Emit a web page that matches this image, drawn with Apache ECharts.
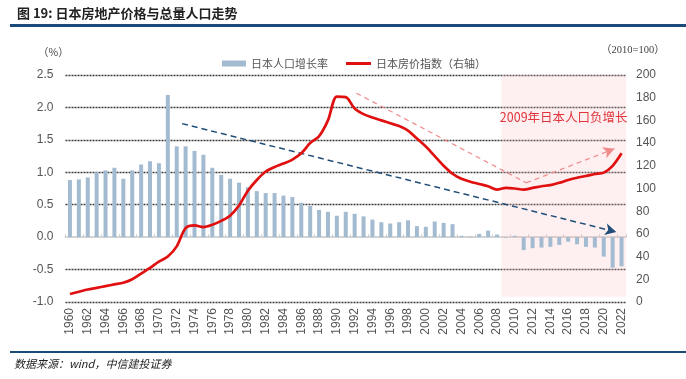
<!DOCTYPE html>
<html><head><meta charset="utf-8">
<script src="https://cdn.jsdelivr.net/npm/echarts@6/dist/echarts.min.js"></script>
<style>html,body{margin:0;padding:0;background:#fff}#c{width:686px;height:379px}</style>
</head><body><div id="c"></div>
<script>
const years = ['1960','1961','1962','1963','1964','1965','1966','1967','1968','1969',
'1970','1971','1972','1973','1974','1975','1976','1977','1978','1979',
'1980','1981','1982','1983','1984','1985','1986','1987','1988','1989',
'1990','1991','1992','1993','1994','1995','1996','1997','1998','1999',
'2000','2001','2002','2003','2004','2005','2006','2007','2008','2009',
'2010','2011','2012','2013','2014','2015','2016','2017','2018','2019',
'2020','2021','2022'];
// 日本人口增长率 (%)
const popGrowth = [0.88,0.89,0.92,1.00,1.03,1.07,0.90,1.03,1.12,1.17,
1.14,2.19,1.40,1.40,1.33,1.27,1.07,0.96,0.90,0.84,
0.77,0.71,0.68,0.68,0.64,0.62,0.53,0.48,0.42,0.39,
0.33,0.39,0.36,0.32,0.27,0.23,0.21,0.23,0.26,0.17,
0.16,0.24,0.22,0.20,0.02,0.01,0.05,0.10,0.04,-0.01,
0.02,-0.20,-0.17,-0.16,-0.15,-0.12,-0.07,-0.11,-0.15,-0.16,
-0.30,-0.47,-0.45];
// 日本房价指数 (2010=100)
const priceIndex = [7,9,11,12.5,14,15.5,17,20,25,30,
35.5,40,49,65,67.5,66,68,71.5,76,85,
98,107.5,115,119,122,125.5,131,140,146,160,
181,180.5,170.5,165.5,162.5,160,157.5,155,151,144,
137,128.5,120,113,108.5,106,104,102,99,100.5,
100,99,100.5,102,103,105,107.5,109.5,111,112.8,
114,120,131];
const leftTicks = {min:-1, max:2.5, interval:0.5};
const rightTicks = {min:0, max:200, interval:20};
// annotations in data space (x = year)
const shadeYears = [2008.5, 2022.5];
const shadeLeftVals = [2.55, -0.92];
const navyArrow = [[1972.6, 1.75], [2021.4, 0.08]];
const pinkArrow = [[1992.2, 184], [2011.3, 105], [2021.2, 135]];
const noteText = '2009年日本人口负增长';

const chart = echarts.init(document.getElementById('c'), null, {renderer:'canvas'});
const gridColors = ['#3c3c3c','#3c3c3c','rgba(0,0,0,0)','#3c3c3c','#3c3c3c','#3c3c3c','#3c3c3c','#3c3c3c'];
const lab = {color:'#555', fontSize:12, fontFamily:'Liberation Sans, Arial, sans-serif'};
const legText = {color:'#555', fontSize:11, fontFamily:'Noto Sans CJK SC'};
chart.setOption({
  animation:false,
  backgroundColor:'#fff',
  grid:{left:65.5, right:60, top:75, bottom:77, containLabel:false},
  legend:[
    {data:['日本人口增长率'], left:217, top:53, itemWidth:24, itemHeight:6, icon:'rect', textStyle:legText},
    {data:['日本房价指数（右轴）'], left:341, top:53, itemWidth:25, itemHeight:3, icon:'rect', textStyle:legText}
  ],
  xAxis:[
    {type:'category', data:years, position:'bottom', boundaryGap:true,
     axisLine:{show:false}, axisTick:{show:false},
     axisLabel:Object.assign({rotate:90, interval:1, margin:6}, lab)},
    {type:'category', data:years, position:'bottom', boundaryGap:true,
     axisLine:{onZero:true, onZeroAxisIndex:0, lineStyle:{color:'#d4d4d4', width:2}},
     axisTick:{show:true, inside:true, interval:1, length:3, lineStyle:{color:'#cfcfcf'}},
     axisLabel:{show:false}, splitLine:{show:false}},
    {type:'value', min:1959.5, max:2022.5, show:false}
  ],
  yAxis:[
    {type:'value', position:'left', min:leftTicks.min, max:leftTicks.max, interval:leftTicks.interval,
     axisLine:{show:false}, axisTick:{show:false},
     axisLabel:Object.assign({margin:12, formatter:v=>v.toFixed(1)}, lab),
     splitLine:{show:true, lineStyle:{color:gridColors, width:1.3, type:[2,1]}}},
    {type:'value', position:'right', min:rightTicks.min, max:rightTicks.max, interval:rightTicks.interval,
     axisLine:{show:false}, axisTick:{show:false}, splitLine:{show:false},
     axisLabel:Object.assign({margin:10}, lab)}
  ],
  series:[
    {type:'line', xAxisIndex:2, yAxisIndex:0, data:[], silent:true, z:1,
     markArea:{silent:true, itemStyle:{color:'rgba(250,190,195,0.24)'},
       label:{show:true, position:'insideTop', distance:36, color:'#e0353c', fontSize:12.5,
              fontFamily:'Noto Sans CJK SC'},
       data:[[{name:noteText, xAxis:shadeYears[0], yAxis:shadeLeftVals[0]},
              {xAxis:shadeYears[1], yAxis:shadeLeftVals[1]}]]}},
    {name:'日本人口增长率', type:'bar', xAxisIndex:0, yAxisIndex:0, data:popGrowth,
     barWidth:4, itemStyle:{color:'#a3bbd0'}, z:3},
    {name:'日本房价指数（右轴）', type:'line', xAxisIndex:0, yAxisIndex:1, data:priceIndex,
     smooth:0.3, symbol:'none', lineStyle:{color:'#e01010', width:2.7}, itemStyle:{color:'#e01010'}, z:5},
    {type:'line', xAxisIndex:2, yAxisIndex:0, data:[], silent:true, z:4,
     markLine:{silent:true, symbolSize:[9,11], label:{show:false},
       lineStyle:{color:'#1f4e79', width:1.5, type:[6,4]},
       data:[[{coord:navyArrow[0], symbol:'none'},{coord:navyArrow[1], symbol:'arrow'}]]}},
    {type:'line', xAxisIndex:2, yAxisIndex:1, data:[], silent:true, z:4,
     markLine:{silent:true, symbolSize:[9,11], label:{show:false},
       lineStyle:{color:'#f08a8a', width:1.2, type:[5,4]},
       data:[[{coord:pinkArrow[0], symbol:'none'},{coord:pinkArrow[1], symbol:'none'}],
             [{coord:pinkArrow[1], symbol:'none'},{coord:pinkArrow[2], symbol:'arrow'}]]}}
  ],
  graphic:[
    {type:'text', left:17, top:7, style:{text:'图 19: 日本房地产价格与总量人口走势', fill:'#222', fontSize:13, fontWeight:'bold', fontFamily:'Noto Sans CJK SC'}},
    {type:'rect', left:10, top:24, shape:{width:676, height:3}, style:{fill:'#1b4a7a'}},
    {type:'text', left:38, top:47, style:{text:'（%）', fill:'#444', fontSize:10.5, fontFamily:'Noto Sans CJK SC'}},
    {type:'text', left:601, top:45, style:{text:'（2010=100）', fill:'#444', fontSize:10.5, fontFamily:'Liberation Serif, Noto Sans CJK SC'}},
    {type:'rect', left:10, top:351, shape:{width:676, height:2}, style:{fill:'#1b4a7a'}},
    {type:'text', left:14, top:358, style:{text:'数据来源：wind，中信建投证券', fill:'#222', fontSize:11, fontStyle:'italic', fontFamily:'Noto Sans CJK SC'}}
  ]
});
</script></body></html>
